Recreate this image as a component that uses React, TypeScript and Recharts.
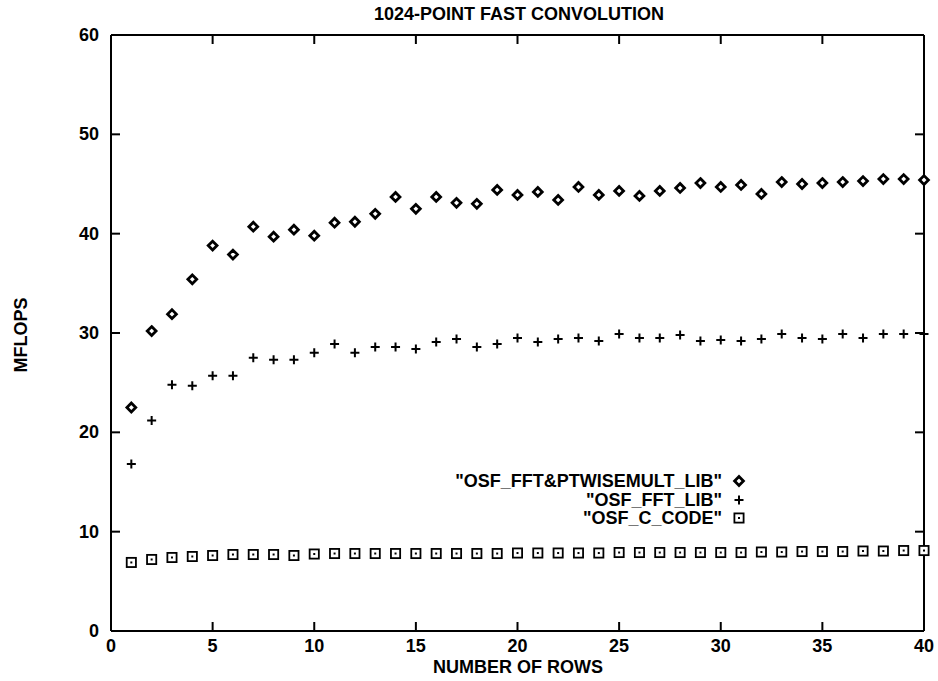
import React from "react";
import {
  ScatterChart,
  Scatter,
  XAxis,
  YAxis,
  Legend,
} from "recharts";

const rows = [
  1, 2, 3, 4, 5, 6, 7, 8, 9, 10, 11, 12, 13, 14, 15, 16, 17, 18, 19, 20,
  21, 22, 23, 24, 25, 26, 27, 28, 29, 30, 31, 32, 33, 34, 35, 36, 37, 38, 39, 40,
];

const fftPtwiseLib = [
  22.5, 30.2, 31.9, 35.4, 38.8, 37.9, 40.7, 39.7, 40.4, 39.8,
  41.1, 41.2, 42.0, 43.7, 42.5, 43.7, 43.1, 43.0, 44.4, 43.9,
  44.2, 43.4, 44.7, 43.9, 44.3, 43.8, 44.3, 44.6, 45.1, 44.7,
  44.9, 44.0, 45.2, 45.0, 45.1, 45.2, 45.3, 45.5, 45.5, 45.4,
];

const fftLib = [
  16.8, 21.2, 24.8, 24.7, 25.7, 25.7, 27.5, 27.3, 27.3, 28.0,
  28.9, 28.0, 28.6, 28.6, 28.4, 29.1, 29.4, 28.6, 28.9, 29.5,
  29.1, 29.4, 29.5, 29.2, 29.9, 29.5, 29.5, 29.8, 29.2, 29.3,
  29.2, 29.4, 29.9, 29.5, 29.4, 29.9, 29.5, 29.9, 29.9, 29.9,
];

const cCode = [
  6.9, 7.2, 7.4, 7.5, 7.6, 7.7, 7.7, 7.7, 7.6, 7.75,
  7.8, 7.8, 7.8, 7.8, 7.8, 7.8, 7.8, 7.8, 7.8, 7.85,
  7.85, 7.85, 7.85, 7.85, 7.9, 7.9, 7.9, 7.9, 7.9, 7.9,
  7.9, 7.95, 7.95, 8.0, 8.0, 8.0, 8.05, 8.05, 8.1, 8.1,
];

const seriesNames = [
  '"OSF_FFT&PTWISEMULT_LIB"',
  '"OSF_FFT_LIB"',
  '"OSF_C_CODE"',
];

const xTicks = [0, 5, 10, 15, 20, 25, 30, 35, 40];
const xTopTicks = [5, 10, 15, 20, 25, 30, 35];
const yTicks = [0, 10, 20, 30, 40, 50, 60];
const yRightTicks = [10, 20, 30, 40, 50];

const toPoints = (vals: number[]) => rows.map((r, i) => ({ x: r, y: vals[i] }));

const FONT = '"Liberation Sans", Arial, Helvetica, sans-serif';
const TS = 8; // tickSize, used to get back to the axis line from the label position

function Diamond({ cx, cy }: any) {
  const h = 4.4;
  return (
    <path
      d={`M${cx},${cy - h}L${cx + h},${cy}L${cx},${cy + h}L${cx - h},${cy}Z`}
      fill="#fff"
      stroke="#000"
      strokeWidth={2.8}
    />
  );
}

function Plus({ cx, cy }: any) {
  const h = 4.5;
  return (
    <path
      d={`M${cx - h},${cy}H${cx + h}M${cx},${cy - h}V${cy + h}`}
      stroke="#000"
      strokeWidth={2}
      fill="none"
    />
  );
}

function Square({ cx, cy }: any) {
  const h = 4.6;
  return (
    <g>
      <rect x={cx - h} y={cy - h} width={h * 2} height={h * 2} fill="#fff" stroke="#000" strokeWidth={1.8} />
      <rect x={cx - 1} y={cy - 1} width={2} height={2} fill="#000" />
    </g>
  );
}

const BottomTick = ({ x, y, payload }: any) => (
  <g>
    <line x1={x} x2={x} y1={y - TS} y2={y - TS - 9} stroke="#000" strokeWidth={2} />
    <text x={x} y={y - TS + 21} textAnchor="middle" fontFamily={FONT} fontWeight="bold" fontSize={18} fill="#000">
      {payload.value}
    </text>
  </g>
);

const LeftTick = ({ x, y, payload }: any) => (
  <g>
    <line x1={x + TS} x2={x + TS + 9} y1={y} y2={y} stroke="#000" strokeWidth={2} />
    <text x={x + TS - 12} y={y + 6} textAnchor="end" fontFamily={FONT} fontWeight="bold" fontSize={18} fill="#000">
      {payload.value}
    </text>
  </g>
);

const TopTick = ({ x, y }: any) => (
  <line x1={x} x2={x} y1={y + TS} y2={y + TS + 9} stroke="#000" strokeWidth={2} />
);

const RightTick = ({ x, y }: any) => (
  <line x1={x - TS} x2={x - TS - 9} y1={y} y2={y} stroke="#000" strokeWidth={2} />
);

const symbols = [
  <Diamond cx={11} cy={9} />,
  <Plus cx={11} cy={9} />,
  <Square cx={11} cy={9} />,
];

function LegendBox() {
  return (
    <div style={{ fontFamily: FONT, fontWeight: "bold", fontSize: 18 }}>
      {seriesNames.map((name, i) => (
        <div
          key={name}
          style={{ display: "flex", justifyContent: "flex-end", alignItems: "center", height: 18.5 }}
        >
          <span style={{ marginRight: 6, lineHeight: "18px" }}>{name}</span>
          <svg width={22} height={18}>
            {symbols[i]}
          </svg>
        </div>
      ))}
    </div>
  );
}

const axisLine = { stroke: "#000", strokeWidth: 2 };

export default function App() {
  return (
    <div
      style={{
        position: "absolute",
        left: 0,
        top: 0,
        width: 938,
        height: 681,
        background: "#fff",
        fontFamily: FONT,
        color: "#000",
      }}
    >
      <div
        style={{
          position: "absolute",
          left: 0,
          width: 1038,
          top: 4,
          textAlign: "center",
          fontWeight: "bold",
          fontSize: 18,
          lineHeight: "20px",
        }}
      >
        1024-POINT FAST CONVOLUTION
      </div>
      <div
        style={{
          position: "absolute",
          left: 21 - 60,
          top: 335 - 10,
          width: 120,
          height: 20,
          lineHeight: "20px",
          textAlign: "center",
          fontWeight: "bold",
          fontSize: 18,
          transform: "rotate(-90deg)",
        }}
      >
        MFLOPS
      </div>
      <div
        style={{
          position: "absolute",
          left: 0,
          width: 1036,
          top: 657,
          textAlign: "center",
          fontWeight: "bold",
          fontSize: 18,
          lineHeight: "20px",
        }}
      >
        NUMBER OF ROWS
      </div>
      <ScatterChart
        width={938}
        height={681}
        margin={{ top: 34, right: 13, bottom: 0, left: 0 }}
      >
        <XAxis
          xAxisId="bottom"
          dataKey="x"
          type="number"
          domain={[0, 40]}
          ticks={xTicks}
          height={50}
          tickSize={TS}
          tickMargin={0}
          tickLine={false}
          axisLine={axisLine}
          tick={<BottomTick />}
          interval={0}
        />
        <XAxis
          xAxisId="top"
          orientation="top"
          dataKey="x"
          type="number"
          domain={[0, 40]}
          ticks={xTopTicks}
          height={1}
          tickSize={TS}
          tickMargin={0}
          tickLine={false}
          axisLine={axisLine}
          tick={<TopTick />}
          interval={0}
        />
        <YAxis
          yAxisId="left"
          dataKey="y"
          type="number"
          domain={[0, 60]}
          ticks={yTicks}
          width={111}
          tickSize={TS}
          tickMargin={0}
          tickLine={false}
          axisLine={axisLine}
          tick={<LeftTick />}
          interval={0}
        />
        <YAxis
          yAxisId="right"
          orientation="right"
          dataKey="y"
          type="number"
          domain={[0, 60]}
          ticks={yRightTicks}
          width={1}
          tickSize={TS}
          tickMargin={0}
          tickLine={false}
          axisLine={axisLine}
          tick={<RightTick />}
          interval={0}
        />
        <Legend
          layout="vertical"
          align="center"
          verticalAlign="middle"
          content={() => <LegendBox />}
          wrapperStyle={{ left: 400, top: 472, width: 350, height: 56 }}
        />
        <Scatter
          name={seriesNames[0]}
          data={toPoints(fftPtwiseLib)}
          xAxisId="bottom"
          yAxisId="left"
          shape={(p: any) => <Diamond cx={p.cx} cy={p.cy} />}
          isAnimationActive={false}
        />
        <Scatter
          name={seriesNames[1]}
          data={toPoints(fftLib)}
          xAxisId="bottom"
          yAxisId="left"
          shape={(p: any) => <Plus cx={p.cx} cy={p.cy} />}
          isAnimationActive={false}
        />
        <Scatter
          name={seriesNames[2]}
          data={toPoints(cCode)}
          xAxisId="bottom"
          yAxisId="left"
          shape={(p: any) => <Square cx={p.cx} cy={p.cy} />}
          isAnimationActive={false}
        />
        <Scatter
          name="frame"
          data={toPoints(fftLib)}
          xAxisId="top"
          yAxisId="right"
          legendType="none"
          shape={() => <g />}
          isAnimationActive={false}
        />
      </ScatterChart>
    </div>
  );
}
